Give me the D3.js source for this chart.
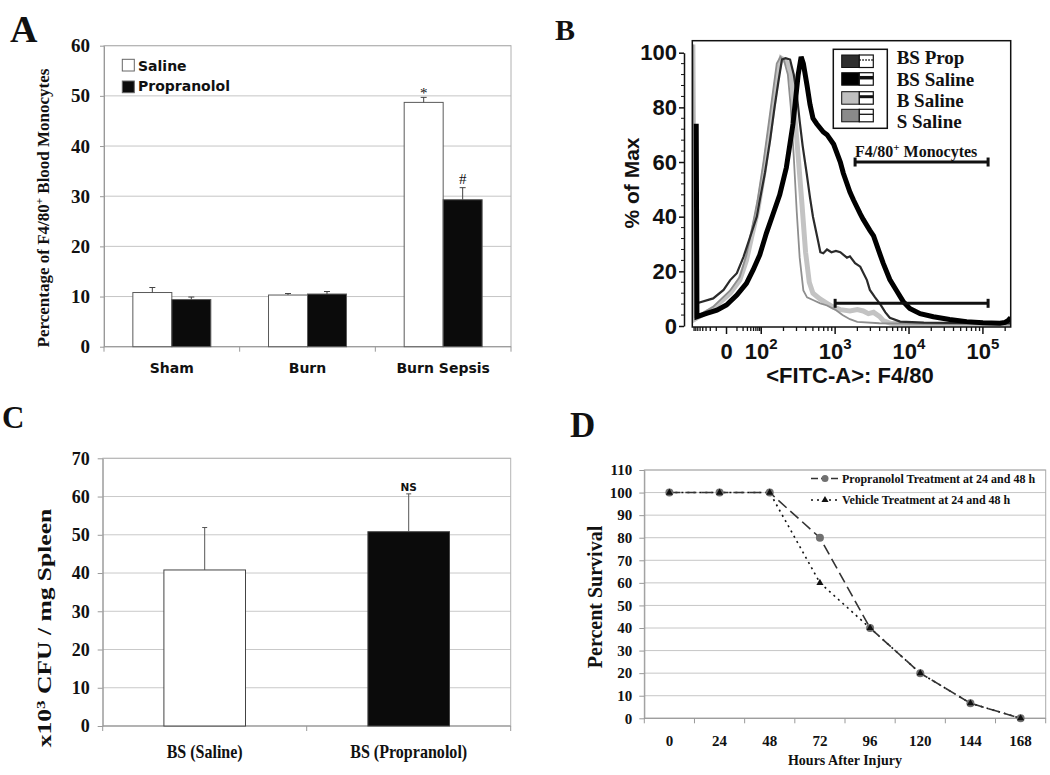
<!DOCTYPE html>
<html><head><meta charset="utf-8">
<script src="https://cdn.jsdelivr.net/npm/d3@7"></script>
<style>body{margin:0;background:#fff} svg{display:block}</style>
</head><body>
<svg id="fig" width="1050" height="775"></svg>
<script>
// ---------------- DATA ----------------
// Panel A
const catsA = ["Sham", "Burn", "Burn Sepsis"];
const seriesA = ["Saline", "Propranolol"];
const salineA = [10.8, 10.3, 48.7];
const salineErrA = [1.0, 0.3, 1.0];
const propA = [9.4, 10.5, 29.3];
const propErrA = [0.5, 0.5, 2.4];
const markSalineA = ["", "", "*"];
const markPropA = ["", "", "#"];
const yTicksA = [0, 10, 20, 30, 40, 50, 60];

// Panel B (x in display decades of the FITC-A axis, y in % of max)
const legendB = ["BS Prop", "BS Saline", "B Saline", "S Saline"];
const bsSalineX = [1.12,1.13,1.26,1.40,1.53,1.67,1.80,1.89,1.98,2.07,2.16,2.25,2.34,2.43,2.50,2.54,2.57,2.62,2.66,2.70,2.75,2.84,2.89,2.98,3.07,3.11,3.20,3.25,3.34,3.38,3.47,3.52,3.61,3.65,3.74,3.83,3.92,4.01,4.15,4.33,4.55,4.78,5.00,5.23,5.30,5.34,5.376];
const bsSalineY = [74,3.4,4.6,5.8,7.7,11.3,15.6,20.5,26,34,41,48,58,74,92,98.5,96,88,81,76,74,71,70,66.5,60,56,49,46,41,39,35,33,26,23,17,13,9,6.4,4.5,3.4,2.4,1.6,1.2,1,1.3,2,3];
const bsPropX = [1.13,1.35,1.49,1.58,1.67,1.76,1.85,1.94,1.98,2.05,2.12,2.18,2.23,2.28,2.33,2.39,2.44,2.48,2.52,2.56,2.615,2.66,2.70,2.77,2.80,2.84,2.89,2.95,3.01,3.07,3.16,3.20,3.27,3.34,3.43,3.47,3.54,3.61,3.68,3.74,3.88,4.2,5.0,5.376];
const bsPropY = [8.3,10.1,13.2,16.8,19.3,25.3,32.6,40,46,56,68,80,89,97.5,98,97.5,92,85,75,66,55.8,47,40,31,27,26.6,28,27,27.5,27,25,25.5,23,21.7,16.8,13.2,10.5,8,5,3,1.6,1.2,1,1];
const bSalineX = [1.075,1.10,1.35,1.58,1.71,1.80,1.87,1.95,2.03,2.10,2.16,2.22,2.27,2.33,2.38,2.42,2.46,2.50,2.55,2.60,2.65,2.70,2.79,2.89,2.97,3.07,3.20,3.30,3.38,3.45,3.52,3.60,3.65,3.75,4.0,5.376];
const bSalineY = [103,2.5,6.4,12,16.8,24,32.6,42,55,68,80,92,98,97,95,88,75,62,45,27,16,12,10,8.3,7,6,5.5,6,5.5,4.5,5,3.5,2,1,0.6,0.5];
const sSalineX = [1.075,1.10,1.35,1.58,1.71,1.80,1.87,1.95,2.03,2.10,2.16,2.21,2.26,2.31,2.36,2.40,2.44,2.48,2.52,2.57,2.62,2.70,2.80,2.89,3.00,3.10,3.20,3.30,3.60,5.376];
const sSalineY = [103,3,7,13,18,26,35,46,60,74,86,96,98.5,97,92,80,62,42,25,13,10.5,9.5,8.3,7.5,6,4,2.5,1.5,1,0.5];
const gateStartB = [3.27, 3.0];
const gateEndB = [5.07, 5.07];
const gateLevelB = [60, 8.3];
const yTicksB = [0, 20, 40, 60, 80, 100];
const xTickPosB = [1.53, 2, 3, 4, 5];
const xTickBaseB = ["0", "10", "10", "10", "10"];
const xTickExpB = ["", "2", "3", "4", "5"];

// Panel C
const catsC = ["BS (Saline)", "BS (Propranolol)"];
const valuesC = [40.8, 50.8];
const errC = [11.1, 9.9];
const markC = ["", "NS"];
const yTicksC = [0, 10, 20, 30, 40, 50, 60, 70];

// Panel D
const hoursD = [0, 24, 48, 72, 96, 120, 144, 168];
const propD = [100, 100, 100, 80, 40, 20, 6.67, 0];
const vehD = [100, 100, 100, 60, 40, 20, 6.67, 0];
const seriesD = ["Propranolol Treatment at 24 and 48 h", "Vehicle Treatment at 24 and 48 h"];
const yTicksD = [0, 10, 20, 30, 40, 50, 60, 70, 80, 90, 100, 110];

// ---------------- DRAW ----------------
const FS = "'Liberation Serif','Times New Roman',serif";
const FA = "'Liberation Sans',Arial,sans-serif";
const FV = "'DejaVu Sans',Verdana,sans-serif";
const svg = d3.select("#fig");
const defs = svg.append("defs");

function styleText(sel, fam, size, weight = "bold") {
  sel.attr("font-family", fam).attr("font-size", size).attr("font-weight", weight).attr("fill", "#111");
}

// Panel letters
[["A", 10, 42, 38], ["B", 555, 40, 30], ["C", 2, 428, 31], ["D", 570, 437, 35]].forEach(([t, x, y, s]) => {
  svg.append("text").attr("x", x).attr("y", y).text(t).call(styleText, FS, s);
});

// ===== Panel A =====
{
  const g = svg.append("g");
  const xA = d3.scaleBand().domain(catsA).range([104, 511]);
  const yA = d3.scaleLinear().domain([0, 60]).range([346.7, 45.7]);
  const xA1 = d3.scaleBand().domain(seriesA).range([0, xA.bandwidth()]).paddingOuter(0.74);
  g.selectAll("line.grid").data(yTicksA).join("line")
    .attr("x1", 104).attr("x2", 511).attr("y1", d => yA(d)).attr("y2", d => yA(d))
    .attr("stroke", "#c6c6c6").attr("stroke-width", 1);
  g.append("rect").attr("x", 104).attr("y", yA(60)).attr("width", 407).attr("height", yA(0) - yA(60))
    .attr("fill", "none").attr("stroke", "#b0b0b0");
  g.append("g").attr("transform", "translate(104,0)")
    .call(d3.axisLeft(yA).tickValues(yTicksA).tickSize(4).tickSizeOuter(0).tickPadding(10))
    .call(a => { a.select(".domain").attr("stroke", "#999"); a.selectAll("line").attr("stroke", "#999");
      a.selectAll("text").call(styleText, FS, 19); });
  const bounds = catsA.map(c => xA(c)).concat([511]);
  g.selectAll("line.xt").data(bounds).join("line").attr("x1", d => d).attr("x2", d => d)
    .attr("y1", yA(0)).attr("y2", yA(0) + 5).attr("stroke", "#999");
  g.append("line").attr("x1", 104).attr("x2", 511).attr("y1", yA(0)).attr("y2", yA(0)).attr("stroke", "#999");
  g.selectAll("text.xl").data(catsA).join("text")
    .attr("x", d => xA(d) + xA.bandwidth() / 2).attr("y", 373).attr("text-anchor", "middle").text(d => d)
    .call(styleText, FV, 14);
  const rows = catsA.flatMap((c, i) => [
    { c, s: "Saline", v: salineA[i], e: salineErrA[i], m: markSalineA[i] },
    { c, s: "Propranolol", v: propA[i], e: propErrA[i], m: markPropA[i] }]);
  const fillA = { Saline: "#ffffff", Propranolol: "#0b0b0b" };
  g.selectAll("rect.bar").data(rows).join("rect")
    .attr("x", d => xA(d.c) + xA1(d.s)).attr("width", xA1.bandwidth())
    .attr("y", d => yA(d.v)).attr("height", d => yA(0) - yA(d.v))
    .attr("fill", d => fillA[d.s]).attr("stroke", "#5a5a5a").attr("stroke-width", 1);
  const cx = d => xA(d.c) + xA1(d.s) + xA1.bandwidth() / 2;
  g.selectAll("line.err").data(rows).join("line")
    .attr("x1", cx).attr("x2", cx).attr("y1", d => yA(d.v)).attr("y2", d => yA(d.v + d.e)).attr("stroke", "#444");
  g.selectAll("line.cap").data(rows).join("line")
    .attr("x1", d => cx(d) - 3).attr("x2", d => cx(d) + 3).attr("y1", d => yA(d.v + d.e)).attr("y2", d => yA(d.v + d.e)).attr("stroke", "#444");
  g.selectAll("text.mk").data(rows.filter(d => d.m)).join("text")
    .attr("x", cx).attr("y", d => yA(d.v + d.e) + (d.m === "*" ? 1 : -4)).attr("text-anchor", "middle").text(d => d.m)
    .call(styleText, FS, 15, "normal");
  seriesA.forEach((s, i) => {
    g.append("rect").attr("x", 122.3).attr("y", 59.3 + i * 21.7).attr("width", 12).attr("height", 11.7)
      .attr("fill", fillA[s]).attr("stroke", "#666");
    g.append("text").attr("x", 138).attr("y", 70.7 + i * 20.3).text(s).call(styleText, FV, 14);
  });
  const t = g.append("text").attr("transform", "translate(49,208) rotate(-90)").attr("text-anchor", "middle")
    .call(styleText, FS, 17);
  t.append("tspan").text("Percentage of F4/80");
  t.append("tspan").attr("dy", -6).attr("font-size", 11).text("+");
  t.append("tspan").attr("dy", 6).text(" Blood Monocytes");
}

// ===== Panel B =====
{
  const g = svg.append("g");
  const xB = d3.scaleLinear().domain([1.067, 5.376]).range([692.3, 1010.7]);
  const yB = d3.scaleLinear().domain([0, 100]).range([326, 52.7]);
  defs.append("clipPath").attr("id", "clipB").append("rect")
    .attr("x", 692.3).attr("y", 40.7).attr("width", 318.4).attr("height", 286.3);
  const curves = [
    { x: bSalineX, y: bSalineY, color: "#c3c3c3", w: 5 },
    { x: sSalineX, y: sSalineY, color: "#8e8e8e", w: 1.8 },
    { x: bsPropX, y: bsPropY, color: "#2b2b2b", w: 2.2 },
    { x: bsSalineX, y: bsSalineY, color: "#000", w: 5 }];
  const line = d3.line().x(d => xB(d[0])).y(d => yB(d[1]));
  const cg = g.append("g").attr("clip-path", "url(#clipB)");
  curves.forEach(c => {
    cg.append("path").attr("d", line(d3.zip(c.x, c.y))).attr("fill", "none")
      .attr("stroke", c.color).attr("stroke-width", c.w).attr("stroke-linejoin", "miter").attr("stroke-miterlimit", 2);
  });
  g.append("rect").attr("x", 692.3).attr("y", 40.7).attr("width", 318.4).attr("height", 286.3)
    .attr("fill", "none").attr("stroke", "#111").attr("stroke-width", 1.5);
  gateLevelB.forEach((lv, i) => {
    const y = yB(lv), x1 = xB(gateStartB[i]), x2 = xB(gateEndB[i]);
    g.append("line").attr("x1", x1).attr("x2", x2).attr("y1", y).attr("y2", y).attr("stroke", "#111").attr("stroke-width", 3);
    [x1, x2].forEach(x => g.append("line").attr("x1", x).attr("x2", x).attr("y1", y - 4.5).attr("y2", y + 4.5)
      .attr("stroke", "#111").attr("stroke-width", 3));
  });
  const gt = g.append("text").attr("x", xB(gateStartB[0])).attr("y", yB(gateLevelB[0]) - 5).call(styleText, FS, 16);
  gt.append("tspan").text("F4/80");
  gt.append("tspan").attr("dy", -6).attr("font-size", 11).text("+");
  gt.append("tspan").attr("dy", 6).text(" Monocytes");
  g.append("g").attr("transform", "translate(684,0)")
    .call(d3.axisLeft(yB).tickValues(yTicksB).tickSize(5).tickSizeOuter(0).tickPadding(2))
    .call(a => { a.select(".domain").attr("stroke", "#111").attr("stroke-width", 1.5);
      a.selectAll("line").attr("stroke", "#111").attr("stroke-width", 1.5);
      a.selectAll("text").call(styleText, FA, 22); });
  const minorY = d3.range(0, 101, 4).filter(v => v % 20 !== 0);
  g.selectAll("line.my").data(minorY).join("line").attr("x1", 681).attr("x2", 684)
    .attr("y1", d => yB(d)).attr("y2", d => yB(d)).attr("stroke", "#111");
  const logs = [2, 3, 4, 5, 6, 7, 8, 9].map(m => Math.log10(m));
  const minorX = [];
  [2, 3, 4].forEach(k => logs.forEach(l => minorX.push(k + l)));
  minorX.push(5 + logs[0]);
  logs.forEach(l => { minorX.push(1.53 + 0.47 * l); minorX.push(1.53 - 0.46 * l); });
  g.selectAll("line.mx").data(minorX).join("line").attr("x1", d => xB(d)).attr("x2", d => xB(d))
    .attr("y1", 327).attr("y2", 331).attr("stroke", "#111").attr("stroke-width", 1.3);
  g.selectAll("line.Mx").data(xTickPosB).join("line").attr("x1", d => xB(d)).attr("x2", d => xB(d))
    .attr("y1", 327).attr("y2", 334).attr("stroke", "#111").attr("stroke-width", 1.5);
  xTickPosB.forEach((p, i) => {
    const t = g.append("text").attr("x", xB(p)).attr("y", 359).attr("text-anchor", "middle").call(styleText, FA, 22);
    t.append("tspan").text(xTickBaseB[i]);
    if (xTickExpB[i]) t.append("tspan").attr("dy", -10).attr("font-size", 15).text(xTickExpB[i]);
  });
  g.append("text").attr("x", 850).attr("y", 383).attr("text-anchor", "middle").text("<FITC-A>: F4/80").call(styleText, FA, 22);
  g.append("text").attr("transform", "translate(639,183) rotate(-90)").attr("text-anchor", "middle").text("% of Max").call(styleText, FA, 21);
  g.append("rect").attr("x", 833.3).attr("y", 49.3).attr("width", 54).attr("height", 79)
    .attr("fill", "#fff").attr("stroke", "#111").attr("stroke-width", 1.5);
  const legFill = ["#2e2e2e", "#000", "#c0c0c0", "#8a8a8a"];
  const legLineW = [1.5, 3.5, 3, 1.3];
  const legRowY = [55, 72.7, 91.7, 109.3];
  const legTextY = [64, 85.5, 106.5, 127.5];
  legendB.forEach((s, i) => {
    const y0 = legRowY[i];
    g.append("rect").attr("x", 841.7).attr("y", y0).attr("width", 17.6).attr("height", 12.5).attr("fill", legFill[i]).attr("stroke", "#111").attr("stroke-width", 1);
    g.append("rect").attr("x", 859.3).attr("y", y0).attr("width", 14).attr("height", 12.5).attr("fill", "#fff").attr("stroke", "#111").attr("stroke-width", 1.2);
    g.append("line").attr("x1", 859.3).attr("x2", 873.3).attr("y1", y0 + 5).attr("y2", y0 + 5)
      .attr("stroke", "#111").attr("stroke-width", legLineW[i]).attr("stroke-dasharray", i === 0 ? "1.5,1.5" : null);
    g.append("text").attr("x", 896.7).attr("y", legTextY[i]).text(s).call(styleText, FS, 19);
  });
}

// ===== Panel C =====
{
  const g = svg.append("g");
  const xC = d3.scaleBand().domain(catsC).range([102.7, 510.7]);
  const yC = d3.scaleLinear().domain([0, 70]).range([726, 458.3]);
  g.selectAll("line.grid").data(yTicksC).join("line")
    .attr("x1", 102.7).attr("x2", 510.7).attr("y1", d => yC(d)).attr("y2", d => yC(d)).attr("stroke", "#c9c9c9");
  g.append("rect").attr("x", 102.7).attr("y", yC(70)).attr("width", 408).attr("height", yC(0) - yC(70))
    .attr("fill", "none").attr("stroke", "#b5b5b5");
  g.append("g").attr("transform", "translate(102.7,0)")
    .call(d3.axisLeft(yC).tickValues(yTicksC).tickSize(5).tickSizeOuter(0).tickPadding(8))
    .call(a => { a.select(".domain").attr("stroke", "#999"); a.selectAll("line").attr("stroke", "#999");
      a.selectAll("text").call(styleText, FS, 18); });
  g.append("line").attr("x1", 102.7).attr("x2", 510.7).attr("y1", yC(0)).attr("y2", yC(0)).attr("stroke", "#999");
  const bounds = catsC.map(c => xC(c)).concat([510.7]);
  g.selectAll("line.xt").data(bounds).join("line").attr("x1", d => d).attr("x2", d => d)
    .attr("y1", yC(0)).attr("y2", yC(0) + 5).attr("stroke", "#999");
  const bw = xC.bandwidth() * 0.4;
  const cx = d => xC(d) + xC.bandwidth() / 2;
  const fillC = ["#ffffff", "#0b0b0b"];
  g.selectAll("rect.bar").data(catsC).join("rect")
    .attr("x", d => cx(d) - bw / 2).attr("width", bw)
    .attr("y", (d, i) => yC(valuesC[i])).attr("height", (d, i) => yC(0) - yC(valuesC[i]))
    .attr("fill", (d, i) => fillC[i]).attr("stroke", "#444").attr("stroke-width", 1);
  g.selectAll("line.err").data(catsC).join("line")
    .attr("x1", cx).attr("x2", cx).attr("y1", (d, i) => yC(valuesC[i])).attr("y2", (d, i) => yC(valuesC[i] + errC[i])).attr("stroke", "#555");
  g.selectAll("line.cap").data(catsC).join("line")
    .attr("x1", d => cx(d) - 2.5).attr("x2", d => cx(d) + 2.5)
    .attr("y1", (d, i) => yC(valuesC[i] + errC[i])).attr("y2", (d, i) => yC(valuesC[i] + errC[i])).attr("stroke", "#555");
  catsC.forEach((c, i) => {
    if (markC[i]) g.append("text").attr("x", cx(c)).attr("y", yC(valuesC[i] + errC[i]) - 3).attr("text-anchor", "middle")
      .text(markC[i]).call(styleText, FV, 10.5);
  });
  const labW = [76, 117];
  g.selectAll("text.xl").data(catsC).join("text")
    .attr("x", cx).attr("y", 758).attr("text-anchor", "middle").text(d => d)
    .attr("textLength", (d, i) => labW[i]).attr("lengthAdjust", "spacingAndGlyphs")
    .call(styleText, FS, 19);
  const t = g.append("text").attr("transform", "translate(51,628) rotate(-90) scale(1.42,1)").attr("text-anchor", "middle")
    .call(styleText, FS, 18);
  t.append("tspan").text("x10");
  t.append("tspan").attr("dy", -6).attr("font-size", 12).text("3");
  t.append("tspan").attr("dy", 6).text(" CFU / mg Spleen");
}

// ===== Panel D =====
{
  const g = svg.append("g");
  const xD = d3.scaleBand().domain(hoursD).range([644.3, 1045.7]);
  const yD = d3.scaleLinear().domain([0, 110]).range([718.3, 470]);
  const px = h => xD(h) + xD.bandwidth() / 2;
  g.selectAll("line.grid").data(yTicksD).join("line")
    .attr("x1", 644.3).attr("x2", 1045.7).attr("y1", d => yD(d)).attr("y2", d => yD(d)).attr("stroke", "#c6c6c6");
  g.append("rect").attr("x", 644.3).attr("y", yD(110)).attr("width", 401.4).attr("height", yD(0) - yD(110))
    .attr("fill", "none").attr("stroke", "#aaa");
  g.append("g").attr("transform", "translate(644.3,0)")
    .call(d3.axisLeft(yD).tickValues(yTicksD).tickSize(5).tickSizeOuter(0).tickPadding(7))
    .call(a => { a.select(".domain").attr("stroke", "#999"); a.selectAll("line").attr("stroke", "#999");
      a.selectAll("text").call(styleText, FS, 15); });
  g.append("line").attr("x1", 644.3).attr("x2", 1045.7).attr("y1", yD(0)).attr("y2", yD(0)).attr("stroke", "#999");
  const bounds = hoursD.map(h => xD(h)).concat([1045.7]);
  g.selectAll("line.xt").data(bounds).join("line").attr("x1", d => d).attr("x2", d => d)
    .attr("y1", yD(0)).attr("y2", yD(0) + 5).attr("stroke", "#999");
  g.selectAll("text.xl").data(hoursD).join("text").attr("x", px).attr("y", 746).attr("text-anchor", "middle")
    .text(d => d).call(styleText, FS, 15);
  const line = d3.line().x(d => px(d[0])).y(d => yD(d[1]));
  g.append("path").attr("d", line(d3.zip(hoursD, vehD))).attr("fill", "none").attr("stroke", "#111")
    .attr("stroke-width", 1.6).attr("stroke-dasharray", "2,4");
  g.append("path").attr("d", line(d3.zip(hoursD, propD))).attr("fill", "none").attr("stroke", "#333")
    .attr("stroke-width", 1.6).attr("stroke-dasharray", "11,5");
  g.selectAll("circle.p").data(d3.zip(hoursD, propD)).join("circle")
    .attr("cx", d => px(d[0])).attr("cy", d => yD(d[1])).attr("r", 4).attr("fill", "#707070");
  const tri = d3.symbol().type(d3.symbolTriangle).size(22);
  g.selectAll("path.v").data(d3.zip(hoursD, vehD)).join("path")
    .attr("d", tri).attr("transform", d => `translate(${px(d[0])},${yD(d[1])})`).attr("fill", "#111");
  const legY = [478.5, 500];
  const legTY = [482.7, 504.3];
  g.append("line").attr("x1", 811).attr("x2", 838).attr("y1", legY[0]).attr("y2", legY[0]).attr("stroke", "#333").attr("stroke-width", 1.6).attr("stroke-dasharray", "7,3");
  g.append("circle").attr("cx", 825).attr("cy", legY[0]).attr("r", 3.5).attr("fill", "#707070");
  g.append("line").attr("x1", 811).attr("x2", 838).attr("y1", legY[1]).attr("y2", legY[1]).attr("stroke", "#111").attr("stroke-width", 1.6).attr("stroke-dasharray", "2,4");
  g.append("path").attr("d", tri).attr("transform", `translate(825,${legY[1]})`).attr("fill", "#111");
  seriesD.forEach((s, i) => {
    g.append("text").attr("x", 842).attr("y", legTY[i]).text(s).call(styleText, FS, 12);
  });
  g.append("text").attr("transform", "translate(602,597) rotate(-90)").attr("text-anchor", "middle").text("Percent Survival").call(styleText, FS, 20);
  g.append("text").attr("x", 845).attr("y", 765).attr("text-anchor", "middle").text("Hours After Injury").call(styleText, FS, 14);
}
</script>
</body></html>
